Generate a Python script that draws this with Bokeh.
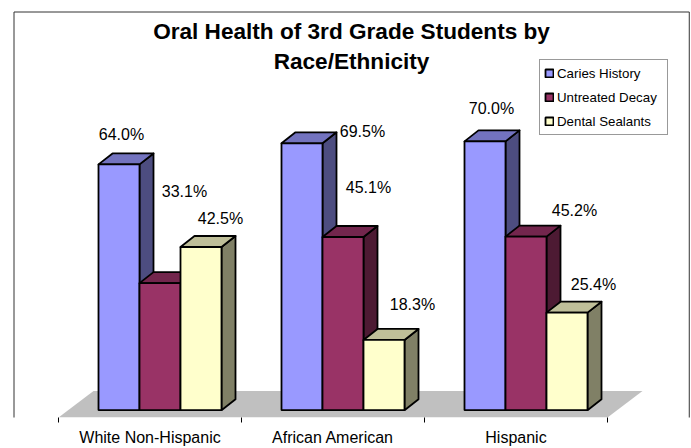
from bokeh.plotting import figure
from bokeh.embed import file_html
from bokeh.resources import INLINE
from bokeh.core.properties import value
from bokeh.models import (ColumnDataSource, FixedTicker, Legend, LegendItem, Label,
                          LinearAxis, Range1d)

categories = ["White Non-Hispanic", "African American", "Hispanic"]
series = ["Caries History", "Untreated Decay", "Dental Sealants"]
caries = [64.0, 69.5, 70.0]
decay = [33.1, 45.1, 45.2]
sealants = [42.5, 18.3, 25.4]
front_colors = ["#9999FF", "#993366", "#FFFFCC"]
top_colors = ["#7373BF", "#73264D", "#BFBF99"]
side_colors = ["#4D4D80", "#4D1A33", "#808066"]
label_dx = [[2.5, 60.5, 6.5], [24.5, 25.5, 48.5], [19.5, 28.5, 26.5]]
label_dy = [[30, 12, 33], [92, 49, 26], [28, 35, 28]]

FONT = "Liberation Sans"
W, H = 691, 448
FRAME_H = 418
PX_X = 183.0            # px per category
PX_Y = 3.85             # px per percent
dx = 14 / PX_X          # bar depth
dy = 11 / PX_Y
bw = 41 / PX_X          # bar width
shift = 10 / PX_X       # bars sit slightly right of the category centre
floor_y = -7.3 / PX_Y
x0 = -58 / PX_X
x1 = (W - 58) / PX_X
y1 = floor_y + FRAME_H / PX_Y

p = figure(width=W, height=H, output_backend="svg", toolbar_location=None,
           x_range=Range1d(x0, x1), y_range=Range1d(floor_y, y1),
           x_axis_location=None, y_axis_location=None,
           min_border=0, min_border_left=0, min_border_right=0, min_border_top=0,
           min_border_bottom=0, outline_line_color=None, background_fill_color="white")
p.grid.visible = False

# floor
p.patch([0, 3, 3 + 35 / PX_X, 35 / PX_X], [floor_y, floor_y, floor_y + 26.5 / PX_Y, floor_y + 26.5 / PX_Y],
        fill_color="#C0C0C0", line_color=None)

# bars
legend_items = []
LW = 1.8
for s, vals in enumerate([caries, decay, sealants]):
    lefts = [i + 0.5 + shift + (s - 1.5) * bw for i in range(3)]
    rights = [l + bw for l in lefts]
    p.patches([[r, r + dx, r + dx, r] for r in rights],
              [[0, dy, v + dy, v] for v in vals],
              fill_color=side_colors[s], line_color="black", line_width=LW, line_join="round")
    p.patches([[l, l + dx, r + dx, r] for l, r in zip(lefts, rights)],
              [[v, v + dy, v + dy, v] for v in vals],
              fill_color=top_colors[s], line_color="black", line_width=LW, line_join="round")
    q = p.quad(left=lefts, right=rights, bottom=[0] * 3, top=vals,
               fill_color=front_colors[s], line_color="black", line_width=LW)
    legend_items.append(LegendItem(label=series[s], renderers=[q]))

# data labels
for s, vals in enumerate([caries, decay, sealants]):
    src = ColumnDataSource(dict(
        x=[i + 0.5 + shift + (s - 1) * bw for i in range(3)],
        y=vals, t=[f"{v:.1f}%" for v in vals],
        xo=label_dx[s], yo=[-d for d in label_dy[s]]))
    p.text("x", "y", "t", source=src, x_offset="xo", y_offset="yo",
           text_align="center", text_baseline="middle", text_color="black",
           text_font=value(FONT), text_font_size="16px")

# category axis: ticks between categories, labels at centres
ax = LinearAxis(ticker=FixedTicker(ticks=[0.5, 1.5, 2.5], minor_ticks=[0, 1, 2, 3]),
                major_label_overrides={i + 0.5: c for i, c in enumerate(categories)},
                major_tick_line_color=None, major_tick_out=0, major_tick_in=0,
                minor_tick_out=5, minor_tick_in=0, minor_tick_line_color="black",
                axis_line_color=None, bounds=(0, 3),
                major_label_text_font=FONT, major_label_text_font_size="16px",
                major_label_text_color="black", major_label_standoff=6)
p.add_layout(ax, "below")

# legend
leg = Legend(items=legend_items, location=(539, 282), orientation="vertical",
             label_text_font=FONT, label_text_font_size="13.3px", label_text_color="black",
             glyph_width=10, glyph_height=10, label_standoff=3, spacing=6, padding=4,
             label_height=18, label_width=106, margin=0,
             border_line_color="#333333", border_line_width=1, background_fill_color="white",
             background_fill_alpha=1)
p.add_layout(leg, "center")

# title
for txt, top in [("Oral Health of 3rd Grade Students by", 32), ("Race/Ethnicity", 62)]:
    p.add_layout(Label(x=351, y=FRAME_H - top, x_units="screen", y_units="screen",
                       text=txt, text_align="center", text_baseline="middle",
                       text_font=FONT, text_font_size="22.6px", text_font_style="bold", text_color="black"))

# chart area border: the outlined box of an empty label, which is not clipped to the plot frame
p.add_layout(Label(x=13.5, y=FRAME_H - 12.5, x_units="screen", y_units="screen",
                   text=" ", text_align="left", text_baseline="top", text_font_size="1px",
                   padding=(0, 675, 460, 0),
                   border_line_color="#333333", border_line_alpha=1, border_line_width=1))

open("out.html", "w").write(file_html(p, INLINE))
